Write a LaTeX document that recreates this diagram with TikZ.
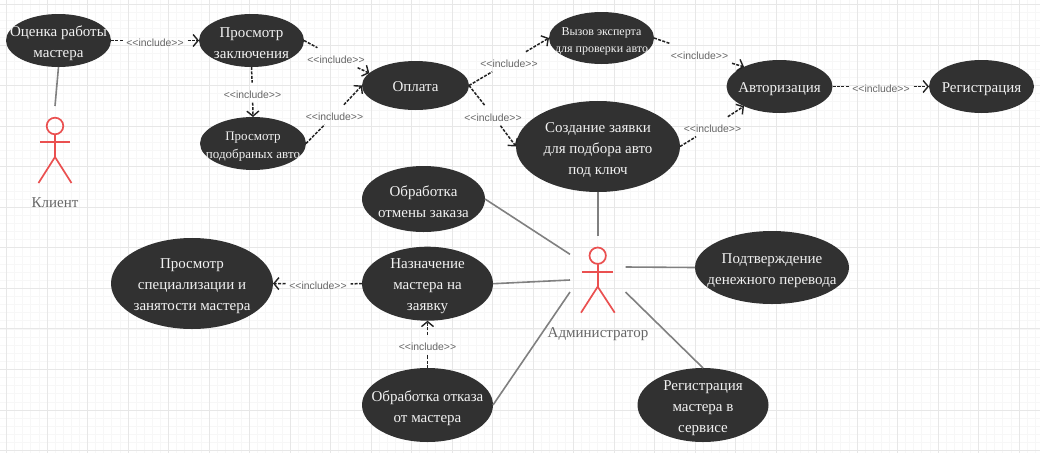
\documentclass[tikz,border=0pt]{standalone}
\usepackage{fontspec}
\setmainfont{Liberation Serif}
\newfontfamily\inclfont{Liberation Sans}
\usetikzlibrary{shapes.geometric,arrows.meta}
\definecolor{ucfill}{HTML}{313131}
\definecolor{uctext}{HTML}{F2F2F2}
\definecolor{grayline}{HTML}{808080}
\definecolor{actorred}{HTML}{EA5050}
\definecolor{lbl}{HTML}{666666}
\definecolor{depline}{HTML}{222222}
\definecolor{gridmin}{HTML}{F7F7F7}
\definecolor{gridmaj}{HTML}{E7E7E7}
\tikzset{
  uc/.style n args={2}{ellipse,fill=ucfill,draw=none,inner sep=0pt,outer sep=0pt,minimum width=#1pt,minimum height=#2pt},
  uct/.style={text=uctext,align=center,inner sep=0pt,yshift=-3pt,font=\fontsize{15}{21}\selectfont},
  ucs/.style={text=uctext,align=center,inner sep=0pt,yshift=-3pt,font=\fontsize{13}{18}\selectfont},
  ucx/.style={text=uctext,align=center,inner sep=0pt,yshift=-3pt,font=\fontsize{12}{16.7}\selectfont},
  incl/.style={rectangle,draw=none,fill=none,inner sep=0pt,outer sep=0pt,minimum width=65pt,minimum height=20pt,text=lbl,text height=11pt,text depth=0pt,font=\inclfont\fontsize{10.4}{12}\selectfont},
  dep/.style={draw=depline,line width=1.5pt,dash pattern=on 3pt off 1.4pt},
  deparrow/.style={dep,-{Straight Barb[length=5pt,width=12pt,line width=1.4pt]}},
  assoc/.style={draw=grayline,line width=1.6pt},
  actor/.style={draw=actorred,line width=1.7pt},
  actorhead/.style={circle,draw=actorred,line width=1.7pt,fill=none,minimum size=#1pt,inner sep=0pt,outer sep=0pt},
  actorname/.style={text=lbl,inner sep=0pt,yshift=-1pt,font=\fontsize{15}{18}\selectfont}
}
\begin{document}
\begin{tikzpicture}[x=1pt,y=-1pt]
\useasboundingbox (0,0) rectangle (1040,453);
\fill[white] (0,0) rectangle (1040,453);
% grid
\foreach \i in {0,...,128} { \draw[gridmin,line width=0.7pt] ({6.5-8.1+8.1*\i},0) -- ({6.5-8.1+8.1*\i},453); }
\foreach \i in {0,...,56} { \draw[gridmin,line width=0.7pt] (0,{4.5+8.11*\i}) -- (1040,{4.5+8.11*\i}); }
\foreach \i in {0,...,25} { \draw[gridmaj,line width=1pt] ({6.5+40.5*\i},0) -- ({6.5+40.5*\i},453); }
\foreach \i in {0,...,11} { \draw[gridmaj,line width=1pt] (0,{4.5+40.55*\i}) -- (1040,{4.5+40.55*\i}); }

% use cases
\node[uc={105}{53},label={[uct]center:Оценка работы\\мастера}] (ocenka) at (58.5,40.5) {};
\node[uc={105}{53},label={[uct]center:Просмотр\\заключения}] (zakl) at (251.5,40.5) {};
\node[uc={106}{53},label={[ucs]center:Просмотр\\подобраных авто}] (podbor) at (253,143.5) {};
\node[uc={107}{49},label={[uct,yshift=1.5pt]center:Оплата}] (oplata) at (415.5,85.5) {};
\node[uc={105}{52},label={[ucx]center:Вызов эксперта\\для проверки авто}] (vyzov) at (601.5,38) {};
\node[uc={164}{91},label={[uct]center:Создание заявки\\для подбора авто\\под ключ}] (sozd) at (598,146.5) {};
\node[uc={106}{53},label={[uct]center:Авторизация}] (avtor) at (779.5,86.5) {};
\node[uc={105}{53},label={[uct]center:Регистрация}] (regis) at (981.5,86.5) {};
\node[uc={123}{66},label={[uct]center:Обработка\\отмены заказа}] (otmena) at (423.5,199) {};
\node[uc={131}{74},label={[uct]center:Назначение\\мастера на\\заявку}] (naznach) at (427.5,283.7) {};
\node[uc={131}{74},label={[uct]center:Обработка отказа\\от мастера}] (otkaz) at (427.5,405) {};
\node[uc={162}{91},label={[uct]center:Просмотр\\специализации и\\занятости мастера}] (spec) at (192,283.5) {};
\node[uc={154}{73},label={[uct]center:Подтверждение\\денежного перевода}] (podtv) at (772,267.5) {};
\node[uc={131}{74},label={[uct]center:Регистрация\\мастера в\\сервисе}] (regm) at (703,405) {};

% include labels
\node[incl] (l1) at (155,40.5) {<{}<include>{}>};
\node[incl] (l2) at (252.5,92.7) {<{}<include>{}>};
\node[incl] (l3) at (336,57.7) {<{}<include>{}>};
\node[incl] (l4) at (334.5,114.7) {<{}<include>{}>};
\node[incl] (l5) at (509,61.7) {<{}<include>{}>};
\node[incl] (l6) at (493,115.7) {<{}<include>{}>};
\node[incl] (l7) at (699.5,53.7) {<{}<include>{}>};
\node[incl] (l8) at (712.5,126.7) {<{}<include>{}>};
\node[incl] (l9) at (881,86.5) {<{}<include>{}>};
\node[incl] (l10) at (318,284) {<{}<include>{}>};
\node[incl] (l11) at (427.5,344.7) {<{}<include>{}>};

% include connectors
\draw[dep] (ocenka.east) -- (l1); \draw[deparrow] (l1) -- (zakl.west);
\draw[dep] (zakl.south) -- (l2); \draw[deparrow] (l2) -- (podbor.north);
\draw[dep] (zakl.east) -- (l3); \draw[deparrow] (l3) -- (oplata.165);
\draw[dep] (podbor.east) -- (l4); \draw[deparrow] (l4) -- (oplata.west);
\draw[dep] (oplata.east) -- (l5); \draw[deparrow] (l5) -- (vyzov.west);
\draw[dep] (oplata.east) -- (l6); \draw[deparrow] (l6) -- (sozd.west);
\draw[dep] (vyzov.east) -- (l7); \draw[deparrow] (l7) -- (avtor.151);
\draw[dep] (sozd.east) -- (l8); \draw[deparrow] (l8) -- (avtor.209);
\draw[dep] (avtor.east) -- (l9); \draw[deparrow] (l9) -- (regis.west);
\draw[dep] (naznach.west) -- (l10); \draw[deparrow] (l10) -- (spec.east);
\draw[dep] (otkaz.north) -- (l11); \draw[deparrow] (l11) -- (naznach.south);

% actor: client
\node[actorhead=16.6] (clienthead) at (55,126) {};
\coordinate (clienthip) at (55,157);
\coordinate (clientlarm) at (40,142);
\coordinate (clientrarm) at (70,142);
\coordinate (clientlleg) at (38.5,183);
\coordinate (clientrleg) at (71.5,183);
\coordinate (clienttop) at (55,106);
\draw[actor] (clienthead.south) -- (clienthip);
\draw[actor] (clientlarm) -- (clientrarm);
\draw[actor] (clientlleg) -- (clienthip) -- (clientrleg);
\node[actorname] (clientname) at (55,202) {Клиент};
\draw[assoc] (ocenka.south) -- (clienttop);

% actor: administrator
\node[actorhead=16.4] (adminhead) at (597.7,255.7) {};
\coordinate (adminhip) at (597.7,286.7);
\coordinate (adminlarm) at (582,271.7);
\coordinate (adminrarm) at (613,271.7);
\coordinate (adminlleg) at (581,312.7);
\coordinate (adminrleg) at (614.7,312.7);
\draw[actor] (adminhead.south) -- (adminhip);
\draw[actor] (adminlarm) -- (adminrarm);
\draw[actor] (adminlleg) -- (adminhip) -- (adminrleg);
\node[actorname] (adminname) at (598,332.7) {Администратор};
\coordinate (at) at (598,235.5);
\coordinate (al1) at (570,254.3);
\coordinate (al2) at (570,280);
\coordinate (al3) at (570,292);
\coordinate (ar1) at (625.5,267);
\coordinate (ar2) at (625.5,292);
\draw[assoc] (sozd.south) -- (at);
\draw[assoc] (otmena.east) -- (al1);
\draw[assoc] (naznach.east) -- (al2);
\draw[assoc] (otkaz.east) -- (al3);
\draw[assoc] (ar1) -- (podtv.west);
\draw[assoc] (ar2) -- (regm.north);
\end{tikzpicture}
\end{document}
